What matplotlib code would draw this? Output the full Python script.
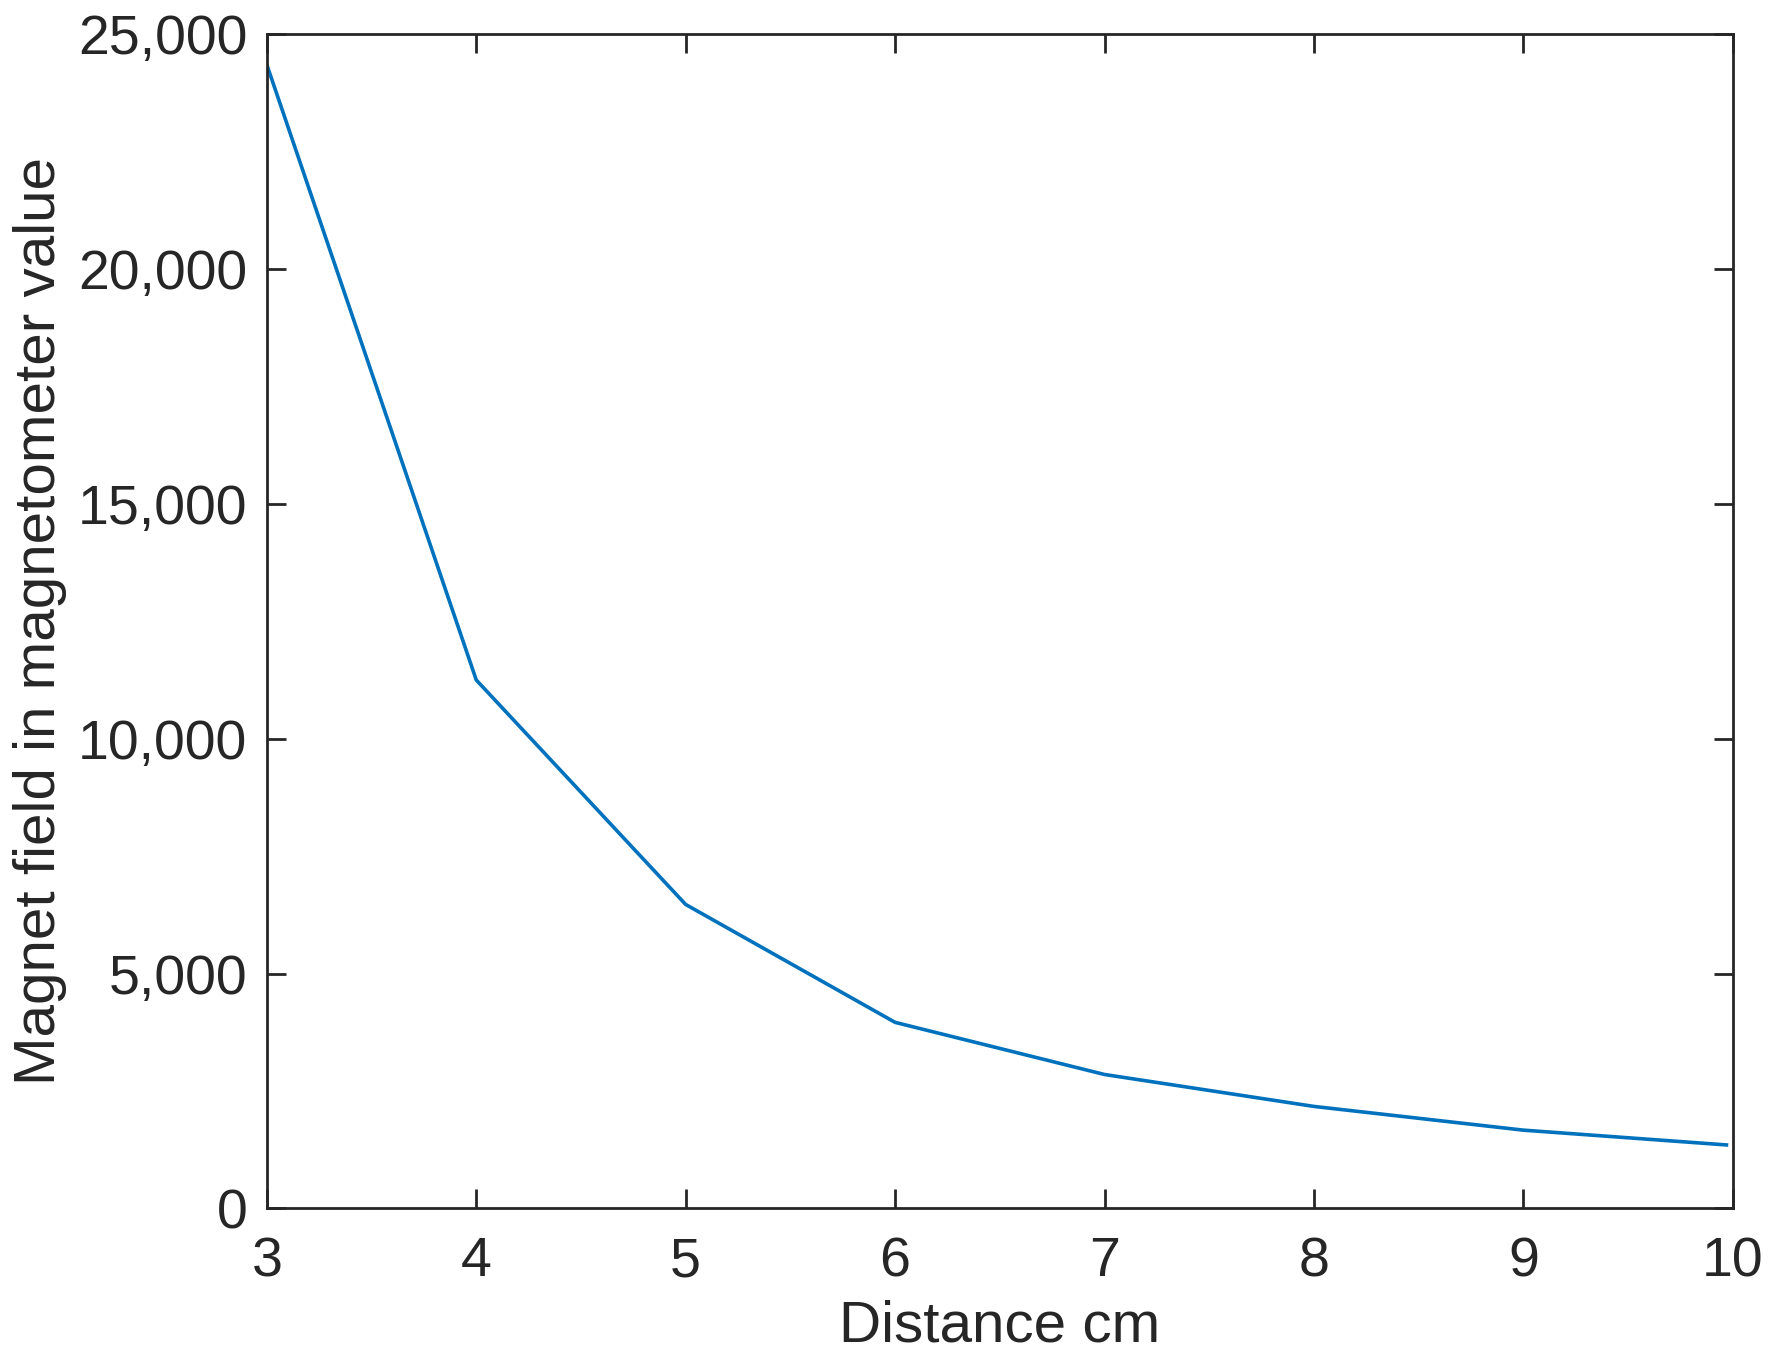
import matplotlib
matplotlib.use('Agg')
import matplotlib.pyplot as plt
from matplotlib.ticker import FuncFormatter

distance = [3, 4, 5, 6, 7, 8, 9, 9.97]
field = [24350, 11250, 6470, 3960, 2850, 2170, 1665, 1350]

plt.rcParams['font.family'] = ['Liberation Sans', 'DejaVu Sans']
fig = plt.figure(figsize=(17.79, 13.70), dpi=100)
ax = fig.add_axes([0.150, 0.118, 0.824, 0.857])
ax.plot(distance, field, color='#0072BD', linewidth=2.6)
ax.set_xlim(3, 10)
ax.set_ylim(0, 25000)
ax.set_xticks(range(3, 11))
ax.set_yticks(range(0, 25001, 5000))
ax.yaxis.set_major_formatter(FuncFormatter(lambda v, p: f'{int(v):,}'))
ax.tick_params(direction='in', top=True, right=True, length=14, width=2,
               labelsize=40, colors='#262626', pad=14)
ax.tick_params(axis='x', pad=20)
for s in ax.spines.values():
    s.set_linewidth(2)
    s.set_color('#262626')
ax.set_xlabel('Distance cm', fontsize=42, color='#262626', labelpad=8)
ax.set_ylabel('Magnet field in magnetometer value', fontsize=42, color='#262626', labelpad=8)
fig.savefig('out.png')
